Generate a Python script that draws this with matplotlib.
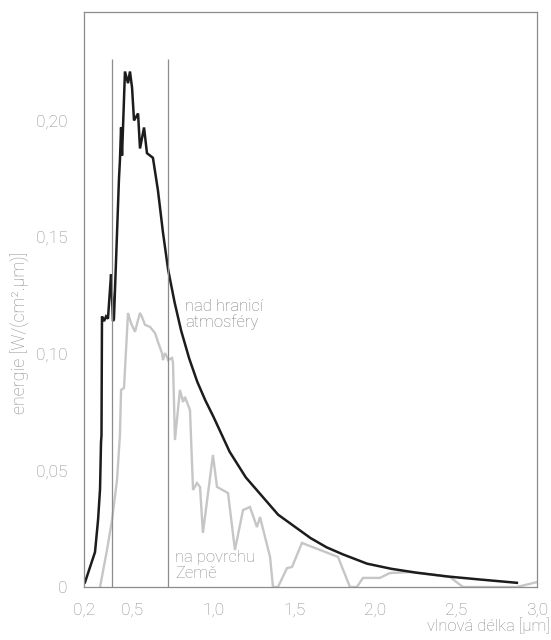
import matplotlib
matplotlib.use("Agg")
import matplotlib.pyplot as plt

# ─── Data ────────────────────────────────────────────────────────────────────
# spectrum above the atmosphere
top_wl = [0.206, 0.268, 0.287, 0.299, 0.305, 0.308, 0.311, 0.324, 0.336, 0.348,
          0.367, 0.373, 0.379, 0.385, 0.416, 0.422, 0.429, 0.435, 0.453, 0.472,
          0.484, 0.497, 0.509, 0.534, 0.546, 0.571, 0.589, 0.626, 0.657, 0.688,
          0.72, 0.76, 0.80, 0.85, 0.90, 0.95, 1.00, 1.10, 1.20, 1.30,
          1.40, 1.50, 1.60, 1.70, 1.80, 1.95, 2.10, 2.25, 2.45, 2.65,
          2.876]
top_en = [0.002, 0.015, 0.029, 0.042, 0.062, 0.065, 0.116, 0.114, 0.116, 0.115,
          0.134, 0.125, 0.114, 0.115, 0.175, 0.183, 0.197, 0.185, 0.221, 0.216,
          0.221, 0.214, 0.200, 0.203, 0.188, 0.197, 0.186, 0.184, 0.170, 0.152,
          0.136, 0.122, 0.110, 0.098, 0.088, 0.080, 0.073, 0.058, 0.047, 0.039,
          0.031, 0.026, 0.021, 0.017, 0.014, 0.010, 0.0078, 0.0062, 0.0045, 0.0032,
          0.0018]

# spectrum at the Earth's surface
surf_wl = [0.299, 0.342, 0.373, 0.404, 0.422, 0.429, 0.447, 0.472, 0.490, 0.515,
           0.534, 0.546, 0.558, 0.577, 0.608, 0.639, 0.657, 0.682, 0.688, 0.701,
           0.713, 0.719, 0.744, 0.750, 0.762, 0.793, 0.812, 0.824, 0.855, 0.874,
           0.898, 0.917, 0.935, 0.997, 1.022, 1.090, 1.133, 1.183, 1.226, 1.269,
           1.288, 1.350, 1.368, 1.399, 1.455, 1.486, 1.547, 1.770, 1.844, 1.887,
           1.924, 2.029, 2.091, 2.215, 2.462, 2.542, 2.876, 3.000]
surf_en = [0.0, 0.0159, 0.0287, 0.0459, 0.0652, 0.0845, 0.0853, 0.1175, 0.1132, 0.1094,
           0.1145, 0.1175, 0.1158, 0.1124, 0.1115, 0.1089, 0.1051, 0.1003, 0.0973, 0.1003,
           0.0986, 0.0973, 0.0982, 0.0961, 0.0630, 0.0845, 0.0793, 0.0815, 0.0759, 0.0416,
           0.0446, 0.0429, 0.0232, 0.0566, 0.0429, 0.0403, 0.0159, 0.0330, 0.0343, 0.0257,
           0.0300, 0.0129, 0.0, 0.0, 0.0081, 0.0086, 0.0189, 0.0129, 0.0, 0.0,
           0.0039, 0.0039, 0.0060, 0.0064, 0.0043, 0.0, 0.0, 0.0021]

# visible band limits
visible = [0.375, 0.72]
visible_top = 0.2264

x_ticks = [0.2, 0.5, 1.0, 1.5, 2.0, 2.5, 3.0]
x_labels = ["0,2", "0,5", "1,0", "1,5", "2,0", "2,5", "3,0"]
y_ticks = [0, 0.05, 0.10, 0.15, 0.20]
y_labels = ["0", "0,05", "0,10", "0,15", "0,20"]

# ─── Style ───────────────────────────────────────────────────────────────────
plt.rcParams['font.family'] = ['Roboto', 'DejaVu Sans']
plt.rcParams['font.weight'] = 'light'
LABEL_GRAY = "#8a8a8a"
LINE_GRAY = "#8c8c8c"

fig = plt.figure(figsize=(5.51, 6.4), dpi=100)
ax = fig.add_axes([0.1525, 0.0828, 0.822, 0.8984])

ax.plot(surf_wl, surf_en, color="#c6c6c6", lw=1.7, solid_joinstyle='miter')
ax.plot(top_wl, top_en, color="#1c1c1c", lw=1.8, solid_joinstyle='miter')
ax.vlines(visible, 0, visible_top, color=LINE_GRAY, lw=0.9)

ax.set_xlim(0.2, 3.0)
ax.set_ylim(0, 0.2465)

ax.set_xticks(x_ticks)
ax.set_xticklabels(x_labels)
ax.set_yticks(y_ticks)
ax.set_yticklabels(y_labels)
ax.tick_params(length=0, labelsize=12.5, labelcolor=LABEL_GRAY)
ax.tick_params(axis='y', pad=12)
ax.tick_params(axis='x', pad=11)

for sp in ax.spines.values():
    sp.set_color(LINE_GRAY)
    sp.set_linewidth(0.9)

ax.text(0.824, 0.1235, "nad hranicí\natmosféry", color="#7a7a7a",
        fontsize=12, va='top', ha='left', linespacing=1.05)
ax.text(0.762, 0.0159, "na povrchu\nZemě", color="#8a8a8a",
        fontsize=12, va='top', ha='left', linespacing=1.05)

fig.text(0.998, 0.023, "vlnová délka [µm]", color=LABEL_GRAY, fontsize=12,
         ha='right', va='center')
fig.text(0.038, 0.48, "energie [W/(cm².µm)]", color=LABEL_GRAY, fontsize=12.8,
         rotation=90, ha='center', va='center')

fig.savefig("out.png", dpi=100)
